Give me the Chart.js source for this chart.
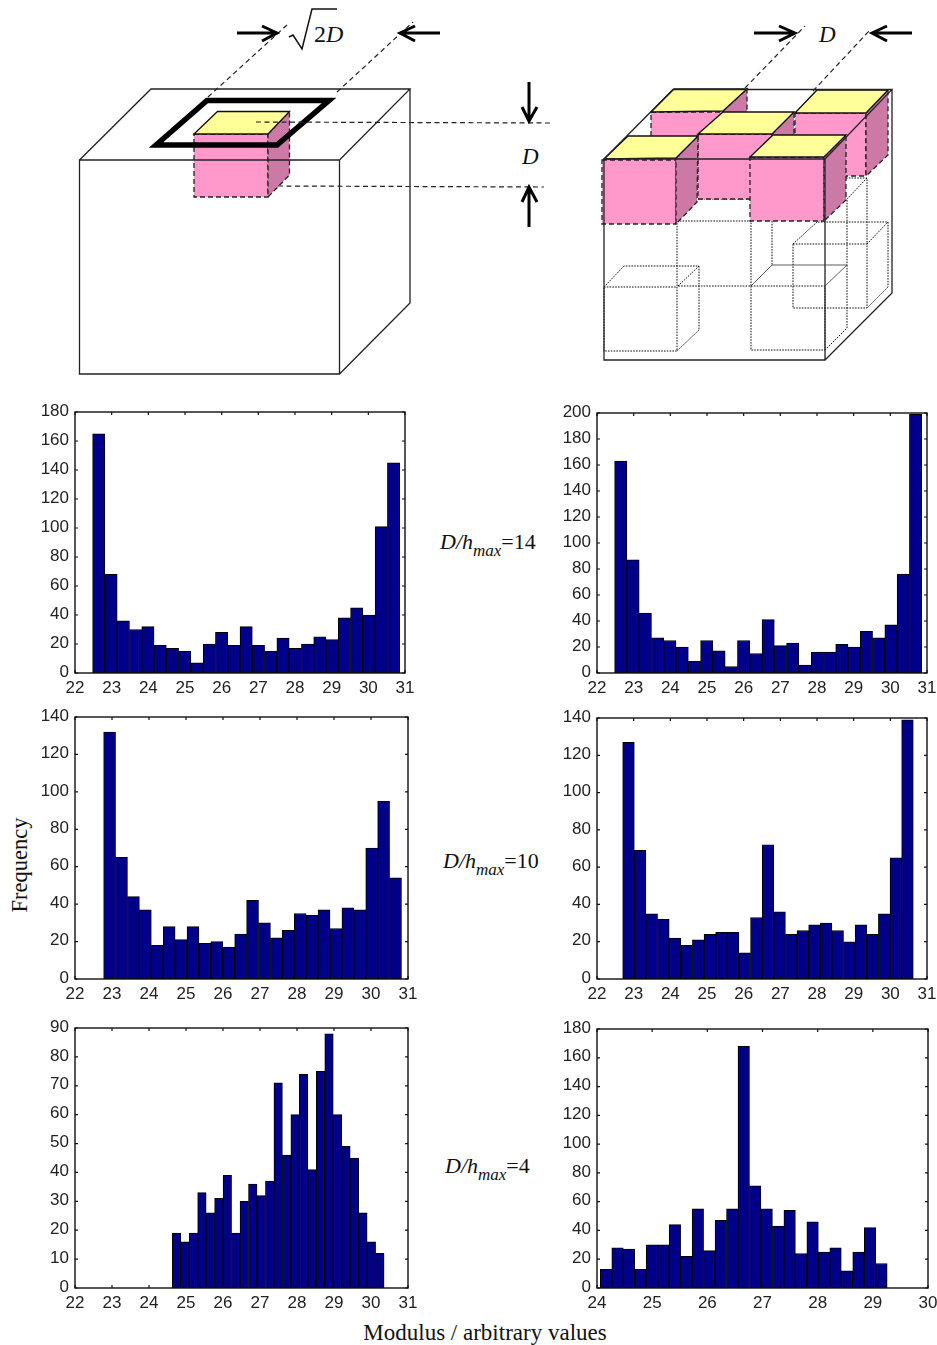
<!DOCTYPE html>
<html>
<head>
<meta charset="utf-8">
<title>Modulus histograms</title>
<script src="https://cdn.jsdelivr.net/npm/chart.js@4"></script>
<style>
  html, body { margin: 0; padding: 0; background: #fff; }
  #page { position: relative; width: 937px; height: 1345px; overflow: hidden; }
  #page canvas { position: absolute; }
  #sketch { position: absolute; left: 0; top: 0; }
  #sketch text { font-family: 'Liberation Serif', serif; fill: #111; }
  .edge { fill: none; stroke: #222; stroke-width: 1.3; }
  .thin { fill: none; stroke: #333; stroke-width: 0.8; }
  .dash { fill: none; stroke: #222; stroke-width: 1.2; stroke-dasharray: 5 3.5; }
  .dots { fill: none; stroke: #111; stroke-width: 1; stroke-dasharray: 1.6 1.2; }
  .arrow { fill: none; stroke: #000; stroke-width: 3; }
  .pink { fill: #ff99cc; stroke: #222; stroke-width: 1.3; stroke-dasharray: 5 3; }
  .side { fill: #cc79a5; stroke: #222; stroke-width: 1.3; stroke-dasharray: 5 3; }
  .lid { fill: #ffff99; stroke: #111; stroke-width: 1.3; }
</style>
</head>
<body>
<div id="page">
  <svg id="sketch" width="937" height="1345" viewBox="0 0 937 1345">
    <!-- left block -->
    <polygon class="pink" points="194,134 268,134 268,197 194,197"/>
    <polygon class="side" points="268,134 289.5,111.5 289.5,175 268,197"/>
    <polygon class="lid" points="194,134 217.5,111.5 289.5,111.5 268,134"/>
    <path class="edge" d="M79.5 160H339.5V374H79.5ZM79.5 160L151 89H410L339.5 160M410 89V303L339.5 374"/>
    <polygon points="156,145 207,100.5 329,100.5 277,145" fill="none" stroke="#000" stroke-width="5.5"/>
    <path class="dash" d="M208 97L287 25M337 92L413 22M256 122L552 123M278 186L544 187"/>
    <path class="arrow" d="M237 33H276M262 26L277 33L262 41"/>
    <path class="arrow" d="M440 33H401M415 26L400 33L415 41"/>
    <path class="arrow" d="M529 82V119M522 107L529 121L537 107"/>
    <path class="arrow" d="M529 227V189M522 202L529 187L537 202"/>
    <path d="M289 37L293 35L302 49L312 9H337" fill="none" stroke="#111" stroke-width="1.5"/>
    <text x="314" y="42" font-size="24">2<tspan font-style="italic">D</tspan></text>
    <text x="522" y="164" font-size="23" font-style="italic">D</text>

    <!-- right block, dotted cells below the top layer -->
    <path class="dots" d="M604 287H677V351H604ZM604 287L624 266H699L677 287M699 266V330L677 351"/>
    <path class="dots" d="M751 286H825V350H751ZM847 265V328L825 350M847 200V265"/>
    <path class="dots" d="M677 221H751V286H677ZM772 221V265"/>
    <path class="dots" d="M793 244H867V308H793ZM793 244L817 222H888V287L867 308M867 244L888 222"/>
    <path class="dots" d="M846 178H867V244M867 178L846 200M698 199H750"/>
    <!-- back row -->
    <polygon class="pink" points="651,112 723,112 723,176 651,176"/>
    <polygon class="side" points="723,111 747,89 747,153 723,176"/>
    <polygon class="lid" points="651,112 674,89 747,89 723,111"/>
    <polygon class="pink" points="795,113 866,113 866,176 795,176"/>
    <polygon class="side" points="866,113 888,90 888,155 866,176"/>
    <polygon class="lid" points="795,113 817,90 888,90 866,113"/>
    <!-- middle -->
    <polygon class="pink" points="698,134 772,134 772,199 698,199"/>
    <polygon class="side" points="772,134 794,112 794,177 772,199"/>
    <polygon class="lid" points="698,134 723,112 794,112 772,134"/>
    <!-- front row -->
    <polygon class="pink" points="602,160 676,160 676,224 602,224"/>
    <polygon class="side" points="676,158 698,136 697,202 676,224"/>
    <polygon class="lid" points="604,159 628,136 698,136 676,158"/>
    <polygon class="pink" points="750,157 824,157 824,221 750,221"/>
    <polygon class="side" points="824,157 846,135 846,200 824,221"/>
    <polygon class="lid" points="750,157 773,135 846,135 824,157"/>
    <path class="edge" d="M604 159H825V360H604ZM604 159L673 89.5H892L825 159M892 90V293L825 360"/>
    <path class="thin" d="M751 286L772 265H847L825 286"/>
    <path class="dash" d="M745 88L805 26M813 91L870 30"/>
    <path class="arrow" d="M754 33H793M779 26L795 33L779 41"/>
    <path class="arrow" d="M912 33H873M887 26L872 33L887 41"/>
    <text x="819" y="42" font-size="23" font-style="italic">D</text>

    <!-- labels -->
    <text x="440" y="549" font-size="22"><tspan font-style="italic">D/h</tspan><tspan font-style="italic" font-size="17" dy="7">max</tspan><tspan dy="-7">=14</tspan></text>
    <text x="443" y="868" font-size="22"><tspan font-style="italic">D/h</tspan><tspan font-style="italic" font-size="17" dy="7">max</tspan><tspan dy="-7">=10</tspan></text>
    <text x="445" y="1173" font-size="22"><tspan font-style="italic">D/h</tspan><tspan font-style="italic" font-size="17" dy="7">max</tspan><tspan dy="-7">=4</tspan></text>
    <text x="27" y="865" font-size="22.5" text-anchor="middle" transform="rotate(-90 27 865)">Frequency</text>
    <text x="485" y="1340" font-size="23" text-anchor="middle">Modulus / arbitrary values</text>
  </svg>
</div>
<script>
// bin centres
const binsA = [22.648, 22.983, 23.318, 23.653, 23.988, 24.323, 24.658, 24.993, 25.328, 25.663, 25.998, 26.333, 26.668, 27.003, 27.338, 27.673, 28.008, 28.343, 28.678, 29.013, 29.348, 29.683, 30.018, 30.353, 30.688];
const binsC = [22.935, 23.257, 23.579, 23.901, 24.223, 24.545, 24.867, 25.189, 25.511, 25.833, 26.155, 26.477, 26.799, 27.121, 27.443, 27.765, 28.087, 28.409, 28.731, 29.053, 29.375, 29.697, 30.019, 30.341, 30.663];
const binsD = [22.859, 23.176, 23.493, 23.81, 24.127, 24.444, 24.761, 25.078, 25.395, 25.712, 26.029, 26.346, 26.663, 26.98, 27.297, 27.614, 27.931, 28.248, 28.565, 28.882, 29.199, 29.516, 29.833, 30.15, 30.467];
const binsE = [24.743, 24.972, 25.201, 25.43, 25.659, 25.888, 26.117, 26.346, 26.575, 26.804, 27.033, 27.262, 27.491, 27.72, 27.949, 28.178, 28.407, 28.636, 28.865, 29.094, 29.323, 29.552, 29.781, 30.01, 30.239];
const binsF = [24.164, 24.372, 24.58, 24.788, 24.996, 25.204, 25.412, 25.62, 25.828, 26.036, 26.244, 26.452, 26.66, 26.868, 27.076, 27.284, 27.492, 27.7, 27.908, 28.116, 28.324, 28.532, 28.74, 28.948, 29.156];

// frequencies
const countsA = [165, 68, 36, 30, 32, 19, 17, 15, 7, 20, 28, 19, 32, 19, 15, 24, 17, 20, 25, 23, 38, 45, 40, 101, 145];
const countsB = [163, 87, 46, 27, 25, 20, 9, 25, 17, 5, 25, 15, 41, 21, 23, 6, 16, 16, 22, 20, 32, 27, 37, 76, 199];
const countsC = [132, 65, 44, 37, 18, 28, 21, 28, 19, 20, 17, 24, 42, 30, 22, 26, 35, 34, 37, 27, 38, 37, 70, 95, 54];
const countsD = [127, 69, 35, 32, 22, 18, 21, 24, 25, 25, 14, 33, 72, 36, 24, 26, 29, 30, 26, 20, 29, 24, 35, 65, 139];
const countsE = [19, 16, 19, 33, 26, 31, 39, 19, 30, 36, 32, 37, 71, 46, 60, 74, 41, 75, 88, 60, 49, 45, 26, 16, 12];
const countsF = [13, 28, 27, 13, 30, 30, 44, 22, 55, 26, 47, 55, 168, 71, 55, 43, 54, 24, 46, 25, 28, 12, 25, 42, 17];

const AXIS_LEFT = 45;
const AXIS_BOTTOM = 26;
// has to stay above the overhang of the first y label or chart.js moves the plot
const PAD_TOP = 20;
const PAD_RIGHT = 20;

// matlab style box with ticks pointing inwards on all four sides
const boxPlugin = {
  id: 'box',
  afterDatasetsDraw: (chart) => {
    const { ctx, chartArea: a, scales } = chart;
    ctx.save();
    ctx.strokeStyle = '#111';
    ctx.lineWidth = 1.4;
    ctx.strokeRect(a.left, a.top, a.right - a.left, a.bottom - a.top);
    ctx.lineWidth = 1.2;
    ctx.beginPath();
    scales.x.ticks.forEach((t) => {
      const px = scales.x.getPixelForValue(t.value);
      ctx.moveTo(px, a.top);
      ctx.lineTo(px, a.top + 3);
      ctx.moveTo(px, a.bottom);
      ctx.lineTo(px, a.bottom - 3);
    });
    scales.y.ticks.forEach((t) => {
      const py = scales.y.getPixelForValue(t.value);
      ctx.moveTo(a.left, py);
      ctx.lineTo(a.left + 3, py);
      ctx.moveTo(a.right, py);
      ctx.lineTo(a.right - 3, py);
    });
    ctx.stroke();
    ctx.restore();
  },
};

const drawHistogram = (p) => {
  const canvas = document.createElement('canvas');
  canvas.width = p.w + AXIS_LEFT + PAD_RIGHT;
  canvas.height = p.h + PAD_TOP + AXIS_BOTTOM;
  canvas.style.left = `${p.x - AXIS_LEFT}px`;
  canvas.style.top = `${p.y - PAD_TOP}px`;
  document.getElementById('page').appendChild(canvas);
  const tickFont = { family: "'Liberation Sans', Arial, sans-serif", size: 17 };
  return new Chart(canvas.getContext('2d'), {
    type: 'bar',
    data: {
      datasets: [
        {
          data: p.bins.map((x, i) => ({ x: x, y: p.counts[i] })),
          backgroundColor: '#000088',
          borderColor: '#000',
          borderWidth: 1,
          borderSkipped: false,
          barPercentage: 1,
          categoryPercentage: 1,
        },
      ],
    },
    options: {
      responsive: false,
      animation: false,
      events: [],
      layout: { padding: { top: PAD_TOP, right: PAD_RIGHT } },
      plugins: { legend: { display: false }, tooltip: { enabled: false } },
      scales: {
        x: {
          type: 'linear',
          offset: false,
          min: p.xMin,
          max: p.xMax,
          grid: { display: false, drawTicks: false },
          border: { display: false },
          ticks: { stepSize: 1, color: '#222', font: tickFont, padding: 5, maxRotation: 0, autoSkip: false },
          afterFit: (scale) => {
            scale.height = AXIS_BOTTOM;
          },
        },
        y: {
          min: 0,
          max: p.yMax,
          grid: { display: false, drawTicks: false },
          border: { display: false },
          ticks: { stepSize: p.yStep, color: '#222', font: tickFont, padding: 6, labelOffset: -1, autoSkip: false },
          afterFit: (scale) => {
            scale.width = AXIS_LEFT;
          },
        },
      },
    },
    plugins: [boxPlugin],
  });
};

drawHistogram({ x: 75, y: 412, w: 330, h: 261, bins: binsA, counts: countsA, xMin: 22, xMax: 31, yMax: 180, yStep: 20 });
drawHistogram({ x: 597, y: 413, w: 330, h: 260, bins: binsA, counts: countsB, xMin: 22, xMax: 31, yMax: 200, yStep: 20 });
drawHistogram({ x: 75, y: 717, w: 333, h: 262, bins: binsC, counts: countsC, xMin: 22, xMax: 31, yMax: 140, yStep: 20 });
drawHistogram({ x: 597, y: 718, w: 330, h: 261, bins: binsD, counts: countsD, xMin: 22, xMax: 31, yMax: 140, yStep: 20 });
drawHistogram({ x: 75, y: 1028, w: 333, h: 260, bins: binsE, counts: countsE, xMin: 22, xMax: 31, yMax: 90, yStep: 10 });
drawHistogram({ x: 597, y: 1029, w: 331, h: 259, bins: binsF, counts: countsF, xMin: 24, xMax: 30, yMax: 180, yStep: 20 });
</script>
</body>
</html>
